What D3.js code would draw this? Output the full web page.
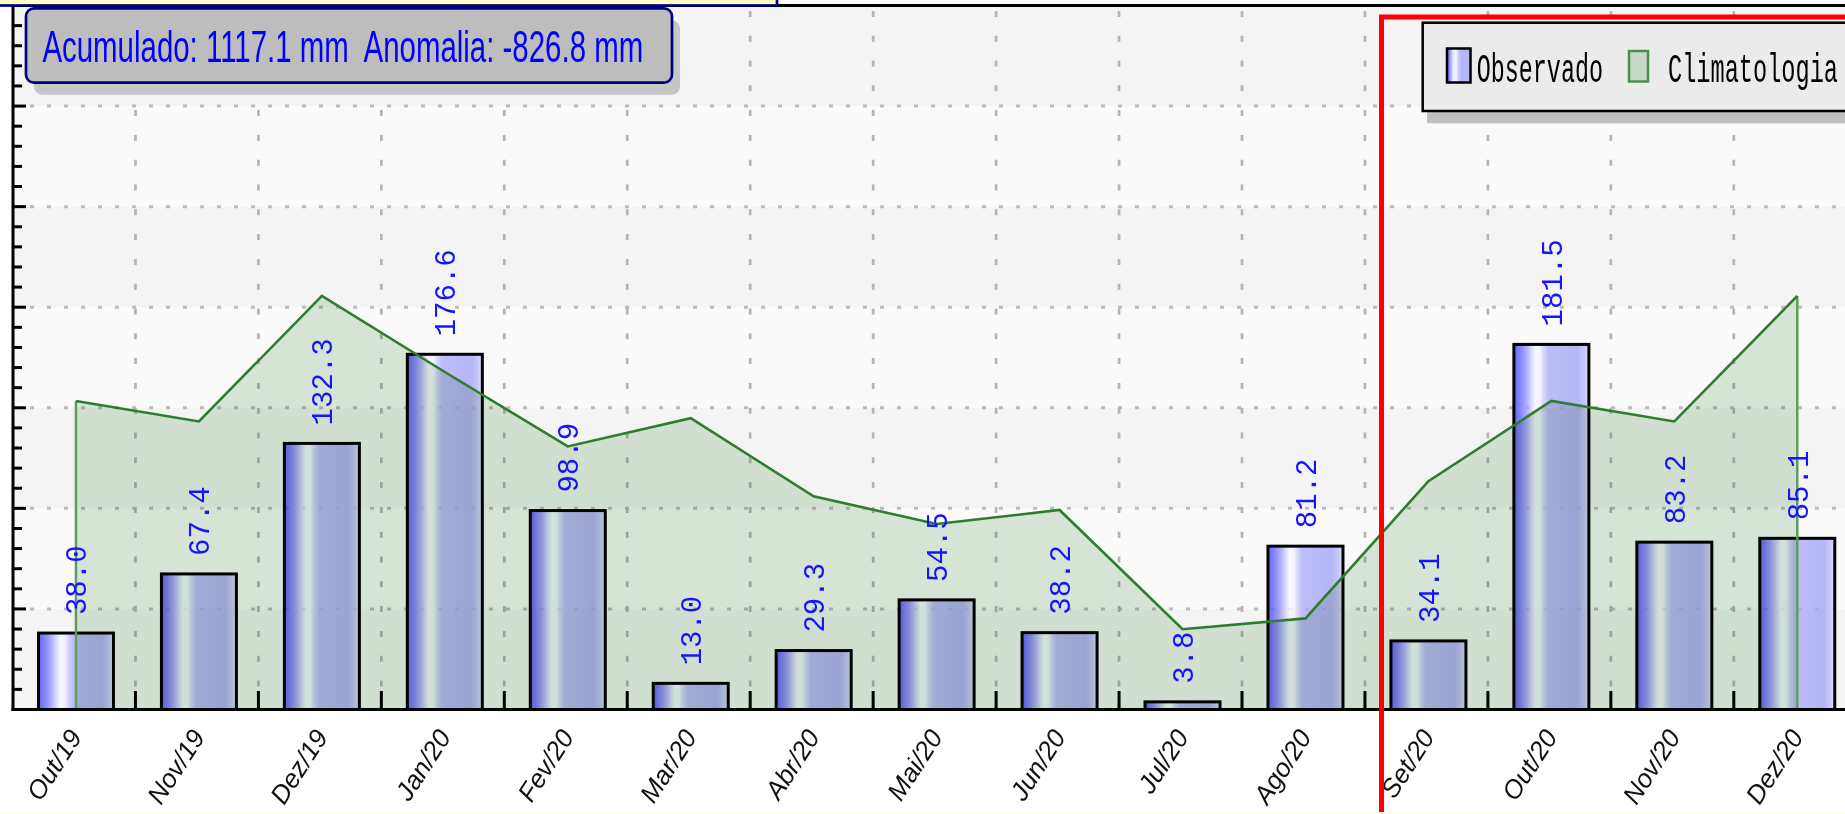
<!DOCTYPE html>
<html>
<head>
<meta charset="utf-8">
<script src="https://cdn.jsdelivr.net/npm/d3@7"></script>
<style>
  html, body { margin: 0; padding: 0; background: #fff; overflow: hidden; }
  svg { display: block; }
</style>
</head>
<body>
<svg id="chart" width="1845" height="814"></svg>
<script>
// Monthly rainfall (mm): observed vs. climatological normal
const months = ["Out/19","Nov/19","Dez/19","Jan/20","Fev/20","Mar/20","Abr/20","Mai/20","Jun/20","Jul/20","Ago/20","Set/20","Out/20","Nov/20","Dez/20"];
const observed = [38.0, 67.4, 132.3, 176.6, 98.9, 13.0, 29.3, 54.5, 38.2, 3.8, 81.2, 34.1, 181.5, 83.2, 85.1];
const climatology = [153.4, 143.2, 205.6, 167.8, 130.8, 144.8, 106.0, 92.2, 99.2, 39.9, 45.3, 113.5, 153.4, 143.2, 205.6];
const yMajorTicks = [0, 50, 100, 150, 200, 250, 300, 350];
const legendLabels = ["Observado", "Climatologia"];

const W = 1845, H = 814;
const svg = d3.select("#chart");

// Scales
const x = d3.scaleBand()
  .domain(months)
  .range([14.5, 14.5 + 15 * 122.95])
  .paddingInner(0.39)
  .paddingOuter(0.195);
const y = d3.scaleLinear().domain([0, 350]).range([709.5, 5.5]);
const cx = d => x(d) + x.bandwidth() / 2;
const boundary = d => x(d) - x.step() * x.paddingInner() / 2 - 2;

// Squeeze a text horizontally so it spans the given width, keeping its height
function fitWidth(sel, x0, y0, width, sy) {
  sel.each(function() {
    const len = this.getComputedTextLength();
    d3.select(this).attr("transform", `translate(${x0},${y0}) scale(${width / len},${sy})`);
  });
}

// Gradients
const defs = svg.append("defs");
const barStops = [
  [0, "rgb(59,59,249)"], [0.06, "rgb(90,90,252)"], [0.12, "rgb(121,121,254)"],
  [0.18, "rgb(162,162,255)"], [0.24, "rgb(213,213,255)"], [0.29, "rgb(247,247,255)"],
  [0.35, "rgb(241,241,255)"], [0.40, "rgb(203,203,254)"], [0.46, "rgb(172,172,249)"],
  [0.85, "rgb(162,162,246)"], [0.93, "rgb(183,183,252)"], [1, "rgb(213,213,255)"]
];
const legStops = [
  [0, "#6464f8"], [0.12, "#9494fc"], [0.25, "#e4e4ff"], [0.38, "#f6f6ff"],
  [0.5, "#c8c8fa"], [0.62, "#b4b4f6"], [1, "#b8b8f8"]
];
function addGrad(id, stops) {
  const g = defs.append("linearGradient").attr("id", id)
    .attr("x1", "0").attr("x2", "1").attr("y1", "0").attr("y2", "0");
  stops.forEach(s => g.append("stop").attr("offset", s[0]).attr("stop-color", s[1]));
}
addGrad("barGrad", barStops);
addGrad("legGrad", legStops);

// Plot background: alternating horizontal bands every 50 mm
const bandEdges = d3.range(0, 350, 50);
svg.append("g").selectAll("rect").data(bandEdges).join("rect")
  .attr("x", 13).attr("width", W)
  .attr("y", d => y(d + 50)).attr("height", d => y(d) - y(d + 50))
  .attr("fill", (d, i) => i % 2 === 0 ? "#f4f4f4" : "#fafafa");

// Grid lines
const grid = svg.append("g");
grid.selectAll("line.h").data(yMajorTicks.filter(v => v > 0 && v < 350)).join("line")
  .attr("class", "h")
  .attr("x1", 13).attr("x2", W)
  .attr("y1", d => y(d)).attr("y2", d => y(d))
  .attr("stroke", "#bcbcbc").attr("stroke-width", 3)
  .attr("stroke-dasharray", "4 13");
grid.selectAll("line.v").data(months.slice(1)).join("line")
  .attr("class", "v")
  .attr("x1", d => boundary(d)).attr("x2", d => boundary(d))
  .attr("y1", y(0)).attr("y2", y(350))
  .attr("stroke", "#b4b4b4").attr("stroke-width", 2.7)
  .attr("stroke-dasharray", "6 18.8").attr("stroke-dashoffset", 1.8);

// Observed bars
svg.append("g").selectAll("rect").data(months).join("rect")
  .attr("x", d => x(d))
  .attr("y", (d, i) => y(observed[i]))
  .attr("width", x.bandwidth())
  .attr("height", (d, i) => y(0) - y(observed[i]))
  .attr("fill", "url(#barGrad)").attr("fill-opacity", 0.78)
  .attr("stroke", "#000").attr("stroke-width", 3);

// Climatology area + line
const area = d3.area()
  .x((d, i) => cx(months[i]))
  .y0(y(0))
  .y1(d => y(d));
svg.append("path").datum(climatology)
  .attr("d", area)
  .attr("fill", "#dbe9db")
  .style("mix-blend-mode", "multiply");

const ends = [0, climatology.length - 1];
svg.append("g").selectAll("line").data(ends).join("line")
  .attr("x1", i => cx(months[i])).attr("x2", i => cx(months[i]))
  .attr("y1", i => y(climatology[i])).attr("y2", y(0))
  .attr("stroke", "#5f9b5f").attr("stroke-width", 2.5);

const line = d3.line().x((d, i) => cx(months[i])).y(d => y(d));
svg.append("path").datum(climatology)
  .attr("d", line)
  .attr("fill", "none")
  .attr("stroke", "#2e7d2e").attr("stroke-width", 2.6);

// Value labels above the bars
svg.append("g").selectAll("text").data(months).join("text")
  .attr("transform", (d, i) => `translate(${cx(d) + 10.5},${y(observed[i]) - 18}) rotate(-90)`)
  .attr("text-anchor", "start")
  .attr("font-family", "'Liberation Mono', 'DejaVu Sans Mono', monospace")
  .attr("font-size", 29)
  .attr("fill", "#1414ff")
  .text((d, i) => observed[i].toFixed(1));

// Axes
const axes = svg.append("g").attr("stroke", "#000");
axes.append("line").attr("x1", 11.5).attr("x2", W).attr("y1", y(0)).attr("y2", y(0)).attr("stroke-width", 3);
axes.append("line").attr("x1", 13).attr("x2", 13).attr("y1", 4).attr("y2", y(0) + 1.5).attr("stroke-width", 3);
axes.append("line").attr("x1", 13).attr("x2", W).attr("y1", y(350)).attr("y2", y(350)).attr("stroke-width", 3);
axes.selectAll("line.xt").data(months.slice(1)).join("line")
  .attr("class", "xt")
  .attr("x1", d => boundary(d)).attr("x2", d => boundary(d))
  .attr("y1", y(0) - 18.5).attr("y2", y(0))
  .attr("stroke-width", 3);
const minorTicks = d3.range(0, 351, 10).filter(v => v % 50 !== 0);
axes.selectAll("line.ymaj").data(yMajorTicks).join("line")
  .attr("class", "ymaj")
  .attr("x1", 13).attr("x2", 26)
  .attr("y1", d => y(d)).attr("y2", d => y(d))
  .attr("stroke-width", 3);
axes.selectAll("line.ymin").data(minorTicks).join("line")
  .attr("class", "ymin")
  .attr("x1", 13).attr("x2", 22)
  .attr("y1", d => y(d)).attr("y2", d => y(d))
  .attr("stroke-width", 3);

// Month labels
svg.append("g").selectAll("text").data(months).join("text")
  .attr("transform", d => `translate(${cx(d) + 7},737) rotate(-57)`)
  .attr("text-anchor", "end")
  .attr("font-family", "'Liberation Sans', Arial, sans-serif")
  .attr("font-style", "italic")
  .attr("font-size", 26)
  .attr("fill", "#111")
  .text(d => d);

// Header strip at the top-left
svg.append("rect")
  .attr("x", -6).attr("y", -12).attr("width", 783).attr("height", 17.5)
  .attr("fill", "#ffffc0").attr("stroke", "#000080").attr("stroke-width", 2.7);

// Summary box
const total = d3.sum(observed);
const anomaly = total - d3.sum(climatology);
const summary = `Acumulado: ${total.toFixed(1)} mm  Anomalia: ${anomaly.toFixed(1)} mm`;
svg.append("rect")
  .attr("x", 34).attr("y", 20.3).attr("width", 646).attr("height", 74.4).attr("rx", 8)
  .attr("fill", "#c6c6c6");
svg.append("rect")
  .attr("x", 26).attr("y", 8.3).attr("width", 646).attr("height", 74.4).attr("rx", 8)
  .attr("fill", "#bdbdbd").attr("stroke", "#000080").attr("stroke-width", 2.7);
svg.append("text")
  .attr("font-family", "'Liberation Sans', Arial, sans-serif")
  .attr("font-size", 44)
  .attr("fill", "#0000ff")
  .style("white-space", "pre")
  .text(summary)
  .call(fitWidth, 42.4, 61.7, 601, 1);

// Legend
const leg = svg.append("g");
leg.append("rect")
  .attr("x", 1427).attr("y", 35).attr("width", 520).attr("height", 88.3)
  .attr("fill", "#c0c0c0");
leg.append("rect")
  .attr("x", 1422.7).attr("y", 22.7).attr("width", 520).attr("height", 88.3)
  .attr("fill", "#ebebeb").attr("stroke", "#000").attr("stroke-width", 2.5);
leg.append("rect")
  .attr("x", 1447).attr("y", 48.5).attr("width", 23.5).attr("height", 34)
  .attr("fill", "url(#legGrad)").attr("stroke", "#000").attr("stroke-width", 2.5);
leg.append("rect")
  .attr("x", 1629).attr("y", 51).attr("width", 19).attr("height", 30.5)
  .attr("fill", "#c8d8c8").attr("stroke", "#4a8f4a").attr("stroke-width", 2.5);
const legX = [1476.7, 1668];
const legW = [126.3, 170];
leg.selectAll("text").data(legendLabels).join("text")
  .attr("font-family", "'Liberation Mono', 'DejaVu Sans Mono', monospace")
  .attr("font-size", 24)
  .attr("fill", "#000")
  .text(d => d)
  .each(function(d, i) { d3.select(this).call(fitWidth, legX[i], 81.7, legW[i], 1.7); });

// Highlight frame around the latest months
svg.append("rect")
  .attr("x", 1381.5).attr("y", 17).attr("width", 700).attr("height", 900)
  .attr("fill", "none").attr("stroke", "#ff0000").attr("stroke-width", 5);

// Bottom strip
svg.append("rect").attr("x", 0).attr("y", 812).attr("width", W).attr("height", 4).attr("fill", "#fffff0");
</script>
</body>
</html>
